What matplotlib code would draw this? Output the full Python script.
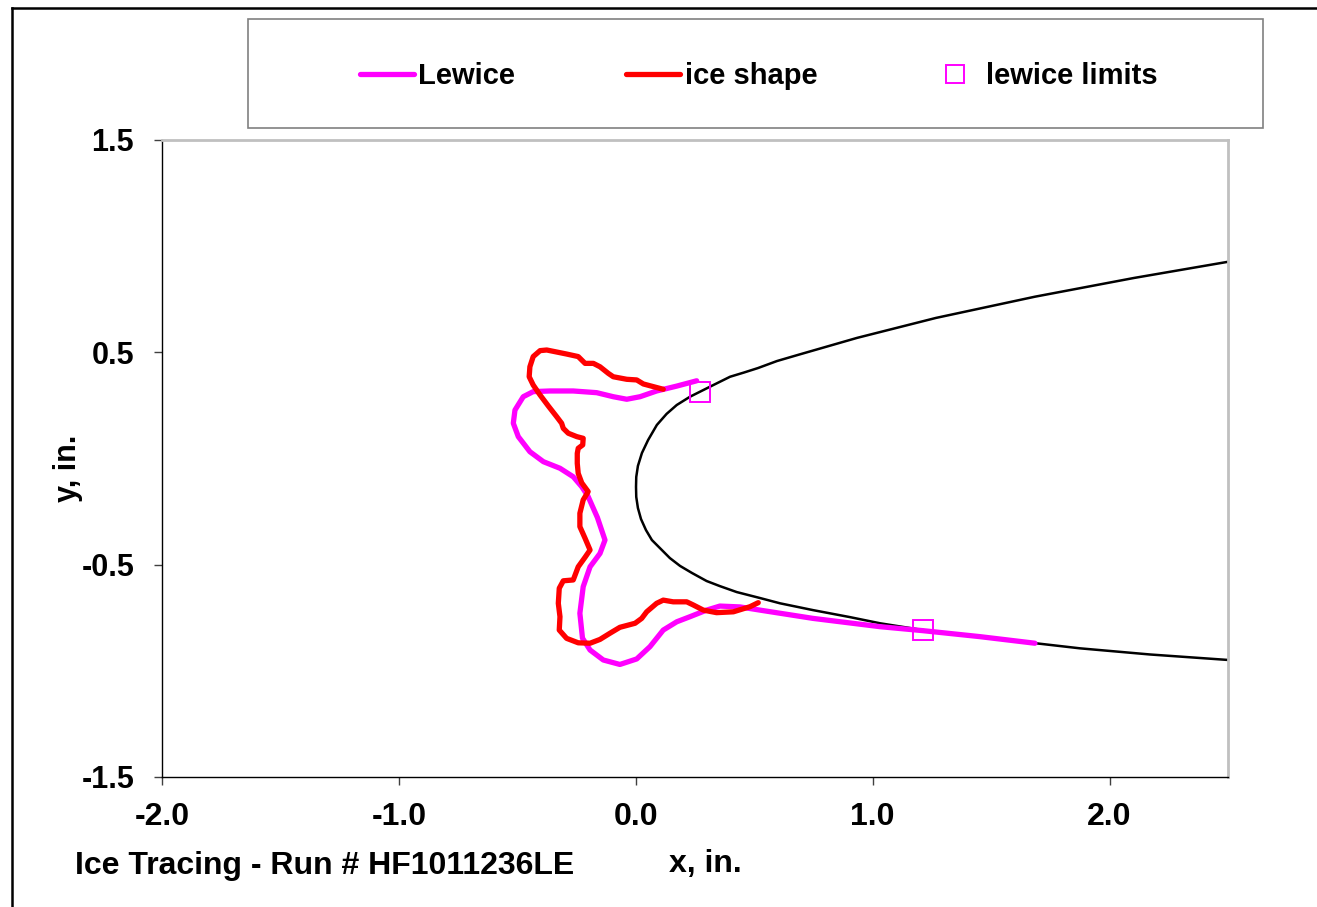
import matplotlib
matplotlib.use("Agg")
import matplotlib.pyplot as plt
from matplotlib.lines import Line2D
from matplotlib.patches import Rectangle

plt.rcParams['font.family'] = ['Liberation Sans', 'DejaVu Sans']
plt.rcParams['font.weight'] = 'bold'

# clean airfoil leading edge, upper trailing side -> nose -> lower trailing side
airfoil_x = [2.503, 2.102, 1.685, 1.267, 0.934, 0.685, 0.596, 0.516, 0.457, 0.398,
             0.313, 0.229, 0.173, 0.130, 0.089, 0.052, 0.026, 0.009, 0.002, 0.001,
             0.002, 0.009, 0.022, 0.043, 0.068, 0.102, 0.144, 0.187, 0.237, 0.299,
             0.355, 0.426, 0.524, 0.609, 0.748, 0.904, 1.031, 1.212, 1.453, 1.664,
             1.875, 2.171, 2.503]
airfoil_y = [0.927, 0.850, 0.762, 0.662, 0.568, 0.488, 0.459, 0.426, 0.405, 0.385,
             0.338, 0.291, 0.252, 0.210, 0.158, 0.087, 0.026, -0.035, -0.087, -0.134,
             -0.181, -0.233, -0.285, -0.337, -0.384, -0.422, -0.469, -0.506, -0.539, -0.577,
             -0.601, -0.629, -0.657, -0.682, -0.714, -0.747, -0.776, -0.808, -0.839, -0.867,
             -0.894, -0.923, -0.949]

# LEWICE predicted ice shape
lewice_x = [0.257, 0.173, 0.088, 0.018, -0.038, -0.095, -0.165, -0.264, -0.362, -0.433,
            -0.475, -0.510, -0.517, -0.496, -0.447, -0.390, -0.320, -0.264, -0.228, -0.202,
            -0.162, -0.130, -0.151, -0.193, -0.222, -0.236, -0.225, -0.193, -0.137, -0.067,
            0.004, 0.060, 0.116, 0.173, 0.229, 0.299, 0.355, 0.440, 0.524, 0.748,
            1.031, 1.214, 1.453, 1.685]
lewice_y = [0.366, 0.341, 0.318, 0.291, 0.279, 0.291, 0.310, 0.318, 0.318, 0.315,
            0.291, 0.228, 0.166, 0.103, 0.032, -0.015, -0.046, -0.086, -0.133, -0.177,
            -0.278, -0.384, -0.447, -0.510, -0.604, -0.729, -0.846, -0.902, -0.949, -0.970,
            -0.944, -0.886, -0.808, -0.769, -0.745, -0.714, -0.695, -0.699, -0.714, -0.753,
            -0.792, -0.811, -0.839, -0.870]

# traced ice shape
ice_x = [0.116, 0.032, 0.004, -0.038, -0.095, -0.116, -0.151, -0.179, -0.214, -0.243,
         -0.292, -0.376, -0.404, -0.433, -0.447, -0.450, -0.433, -0.404, -0.369, -0.334,
         -0.313, -0.306, -0.285, -0.249, -0.222, -0.224, -0.243, -0.247, -0.247, -0.243,
         -0.228, -0.201, -0.222, -0.236, -0.236, -0.214, -0.193, -0.214, -0.243, -0.264,
         -0.306, -0.323, -0.327, -0.320, -0.323, -0.292, -0.243, -0.193, -0.151, -0.109,
         -0.067, -0.003, 0.025, 0.046, 0.088, 0.116, 0.158, 0.215, 0.243, 0.285,
         0.341, 0.412, 0.482, 0.517]
ice_y = [0.326, 0.351, 0.370, 0.373, 0.385, 0.401, 0.432, 0.448, 0.448, 0.480,
         0.492, 0.511, 0.508, 0.480, 0.432, 0.385, 0.346, 0.299, 0.247, 0.197,
         0.166, 0.142, 0.119, 0.103, 0.095, 0.064, 0.048, 0.024, -0.023, -0.070,
         -0.115, -0.156, -0.195, -0.258, -0.321, -0.376, -0.431, -0.465, -0.510, -0.572,
         -0.576, -0.611, -0.682, -0.745, -0.808, -0.847, -0.868, -0.870, -0.852, -0.823,
         -0.795, -0.776, -0.753, -0.722, -0.682, -0.667, -0.675, -0.675, -0.690, -0.714,
         -0.726, -0.722, -0.698, -0.679]

# impingement limits
limits_x = [0.271, 1.212]
limits_y = [0.313, -0.808]

x_ticks = [-2.0, -1.0, 0.0, 1.0, 2.0]
y_ticks = [1.5, 0.5, -0.5, -1.5]

W, H = 1317, 907
fig = plt.figure(figsize=(W / 100, H / 100), dpi=100)
ax = fig.add_axes([162 / W, 1 - 777 / H, (1228 - 162) / W, (777 - 140) / H])

ax.plot(airfoil_x, airfoil_y, color='black', lw=1.8, solid_joinstyle='round')
ax.plot(lewice_x, lewice_y, color='#ff00ff', lw=3.8, solid_joinstyle='round',
        solid_capstyle='round', label='Lewice')
ax.plot(ice_x, ice_y, color='#ff0000', lw=3.8, solid_joinstyle='round',
        solid_capstyle='round', label='ice shape')
ax.plot(limits_x, limits_y, ls='none', marker='s', ms=15, mfc='none',
        mec='#ff00ff', mew=1.4, label='lewice limits')

ax.set_xlim(-2.0, 2.5)
ax.set_ylim(-1.5, 1.5)
ax.set_xticks(x_ticks)
ax.set_yticks(y_ticks)
ax.set_xticklabels([f'{v:.1f}' for v in x_ticks])
ax.set_yticklabels([f'{v:.1f}' for v in y_ticks])
ax.tick_params(axis='both', direction='out', length=6, width=1, color='#404040')
ax.tick_params(axis='x', pad=12, labelsize=23)
ax.tick_params(axis='y', pad=14, labelsize=22)
for t in ax.get_xticklabels() + ax.get_yticklabels():
    t.set_fontweight('bold')

for side in ('left', 'bottom'):
    ax.spines[side].set_color('black')
    ax.spines[side].set_linewidth(1.0)
for side in ('top', 'right'):
    ax.spines[side].set_color('#c0c0c0')
    ax.spines[side].set_linewidth(2.0)

# axis titles
fig.text(68 / W, 1 - 468 / H, 'y, in.', rotation=90, ha='center', va='center',
         fontsize=22, fontweight='bold')
fig.text(705 / W, 1 - 864 / H, 'x, in.', ha='center', va='center',
         fontsize=23, fontweight='bold')
fig.text(75 / W, 1 - 866 / H, 'Ice Tracing - Run # HF1011236LE', ha='left',
         va='center', fontsize=23, fontweight='bold')

# legend box
fig.patches.append(Rectangle((248 / W, 1 - 128 / H), (1263 - 248) / W, 109 / H,
                             transform=fig.transFigure, fill=False,
                             edgecolor='#808080', lw=1.2))
fig.legend(loc='center', bbox_to_anchor=(759 / W, 1 - 76 / H), ncol=3,
           frameon=False, prop={'size': 21, 'weight': 'bold'},
           handlelength=1.85, handletextpad=0.15, columnspacing=3.8,
           markerscale=0.85)

# outer border (top and left)
fig.add_artist(Line2D([12 / W, 1.0], [1 - 8 / H, 1 - 8 / H], color='black', lw=1.8,
                      transform=fig.transFigure))
fig.add_artist(Line2D([12 / W, 12 / W], [0.0, 1 - 8 / H], color='black', lw=1.8,
                      transform=fig.transFigure))

fig.savefig('out.png', dpi=100)
